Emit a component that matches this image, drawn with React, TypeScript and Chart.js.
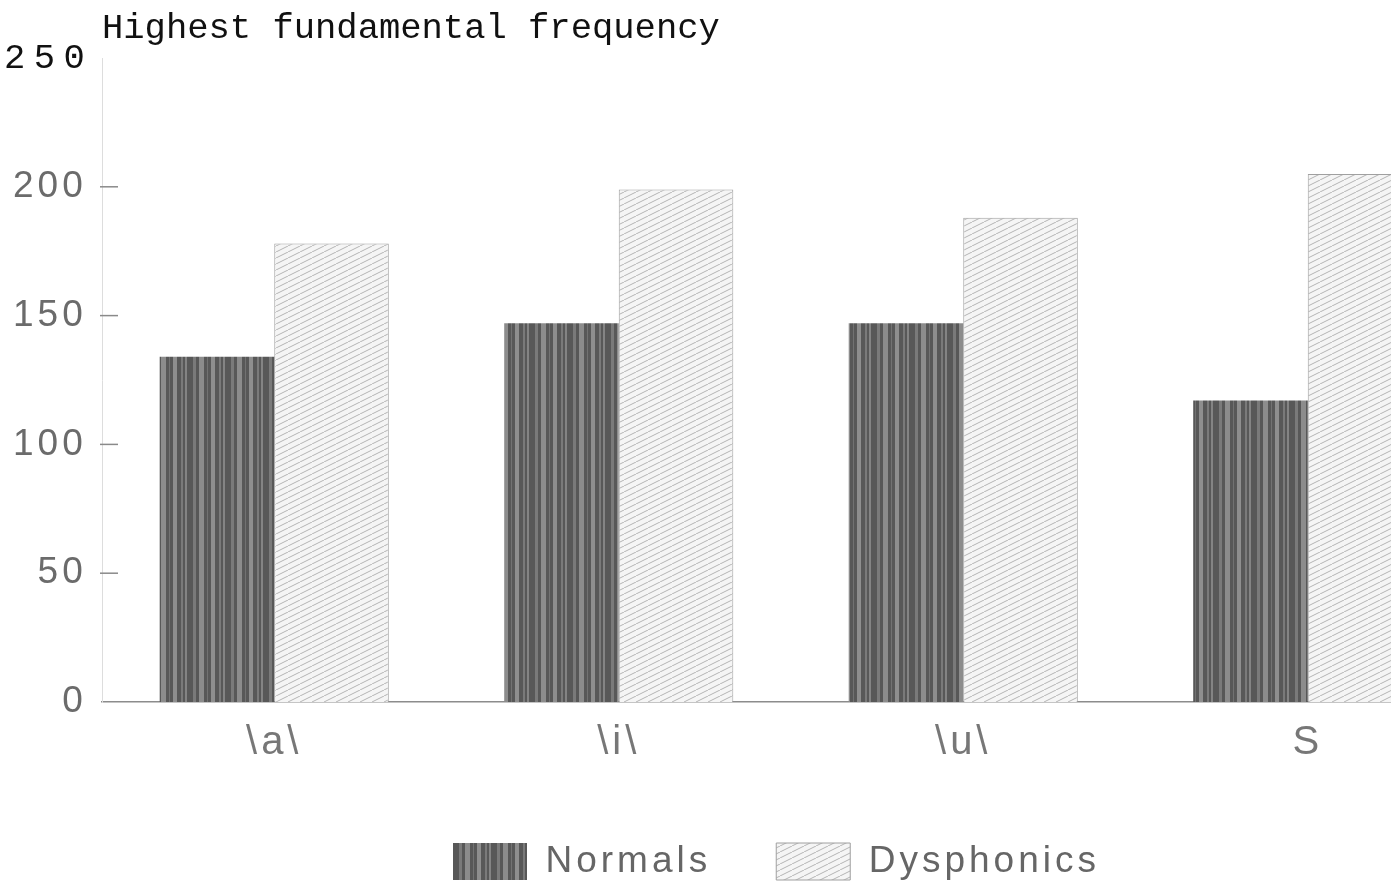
import React, { useEffect, useRef } from "react";
import { Chart, registerables } from "chart.js";

Chart.register(...registerables);

const categories = ["\\a\\", "\\i\\", "\\u\\", "S"];
const normals = [134, 147, 147, 117];
const dysphonics = [178, 199, 188, 205];
const seriesNames = ["Normals", "Dysphonics"];
const yMin = 0;
const yMax = 250;
const yStep = 50;
const titleText = "Highest fundamental frequency";

function makeNormalsPattern(ctx: CanvasRenderingContext2D) {
  const c = document.createElement("canvas");
  c.width = 38;
  c.height = 6;
  const g = c.getContext("2d") as CanvasRenderingContext2D;
  g.fillStyle = "#585858";
  g.fillRect(0, 0, 38, 6);
  const streaks: [number, number, string][] = [
    [3, 3, "#7a7a7a"],
    [9, 5, "#8c8c8c"],
    [17, 1, "#727272"],
    [21, 4, "#8e8e8e"],
    [29, 2, "#7a7a7a"],
    [33, 2, "#848484"],
  ];
  streaks.forEach(([x, w, col]) => {
    g.fillStyle = col;
    g.fillRect(x, 0, w, 6);
  });
  return ctx.createPattern(c, "repeat") as CanvasPattern;
}

function makeHatchPattern(ctx: CanvasRenderingContext2D) {
  const w = 12;
  const h = 6;
  const c = document.createElement("canvas");
  c.width = w;
  c.height = h;
  const g = c.getContext("2d") as CanvasRenderingContext2D;
  g.fillStyle = "#f5f5f5";
  g.fillRect(0, 0, w, h);
  g.strokeStyle = "#b4b4b4";
  g.lineWidth = 1;
  [-w, 0, w].forEach((dx) => {
    g.beginPath();
    g.moveTo(dx, h);
    g.lineTo(dx + w, 0);
    g.stroke();
  });
  return ctx.createPattern(c, "repeat") as CanvasPattern;
}

const decorPlugin = {
  id: "decor",
  beforeUpdate(chart: any) {
    (chart.ctx as any).letterSpacing = "4px";
  },
  beforeDraw(chart: any) {
    (chart.ctx as any).letterSpacing = "4px";
  },
  afterDraw(chart: any) {
    const { ctx, chartArea, scales } = chart;
    const y = scales.y;
    ctx.save();
    ctx.strokeStyle = "#8a8a8a";
    ctx.lineWidth = 1.5;
    y.ticks.forEach((t: any) => {
      if (t.value === y.max || t.value === y.min) return;
      const py = y.getPixelForValue(t.value);
      ctx.beginPath();
      ctx.moveTo(chartArea.left - 2, py);
      ctx.lineTo(chartArea.left + 16, py);
      ctx.stroke();
    });
    (ctx as any).letterSpacing = "0px";
    ctx.fillStyle = "#111";
    ctx.font = "35.5px 'Liberation Mono', monospace";
    ctx.textAlign = "left";
    ctx.textBaseline = "alphabetic";
    ctx.fillText(titleText, chartArea.left, 38);
    (ctx as any).letterSpacing = "8.5px";
    const topPx = y.getPixelForValue(y.max);
    ctx.fillText(String(y.max), 4, topPx + 10);
    ctx.restore();
  },
};

export default function App() {
  const canvasRef = useRef<HTMLCanvasElement | null>(null);

  useEffect(() => {
    const canvas = canvasRef.current;
    if (!canvas) return;
    const ctx = canvas.getContext("2d") as CanvasRenderingContext2D;
    const normalsPattern = makeNormalsPattern(ctx);
    const hatchPattern = makeHatchPattern(ctx);

    const chart = new Chart(canvas, {
      type: "bar",
      data: {
        labels: categories,
        datasets: [
          {
            label: seriesNames[0],
            data: normals,
            backgroundColor: normalsPattern,
            borderWidth: 0,
            categoryPercentage: 0.665,
            barPercentage: 1,
          },
          {
            label: seriesNames[1],
            data: dysphonics,
            backgroundColor: hatchPattern,
            borderColor: "#a0a0a0",
            borderWidth: 1,
            categoryPercentage: 0.665,
            barPercentage: 1,
          },
        ],
      },
      options: {
        responsive: false,
        animation: false,
        devicePixelRatio: 1,
        font: { family: "'Liberation Sans', Arial, sans-serif" },
        layout: { padding: { left: 73, top: 58, right: 0, bottom: 0 } },
        plugins: {
          legend: {
            position: "bottom",
            labels: {
              boxWidth: 74,
              boxHeight: 37,
              padding: 65,
              color: "#666",
              font: { size: 37, family: "'Liberation Sans', Arial, sans-serif" },
            },
          },
          title: { display: false },
          tooltip: { enabled: false },
        },
        scales: {
          x: {
            grid: { display: false, drawTicks: false },
            border: { display: true, color: "#8c8c8c", width: 1.5 },
            ticks: {
              color: "#777",
              padding: 17,
              font: { size: 40, family: "'Liberation Sans', Arial, sans-serif" },
            },
            afterFit: (scale: any) => {
              scale.height = 76;
            },
          },
          y: {
            min: yMin,
            max: yMax,
            grid: { display: false, drawTicks: false },
            border: { display: true, color: "#dddddd", width: 1, dash: [8, 5] },
            ticks: {
              stepSize: yStep,
              color: "#6b6b6b",
              mirror: true,
              crossAlign: "far",
              padding: -89,
              font: { size: 37, family: "'Liberation Sans', Arial, sans-serif" },
              callback: (v: any) => (v === yMax ? "" : String(v)),
            },
            afterFit: (scale: any) => {
              scale.width = 29;
            },
          },
        },
      },
      plugins: [decorPlugin],
    });

    return () => chart.destroy();
  }, []);

  return (
    <div
      style={{
        position: "fixed",
        left: 0,
        top: 0,
        width: 1391,
        height: 890,
        overflow: "hidden",
        background: "#fff",
      }}
    >
      <canvas ref={canvasRef} width={1480} height={890} style={{ display: "block" }} />
    </div>
  );
}
